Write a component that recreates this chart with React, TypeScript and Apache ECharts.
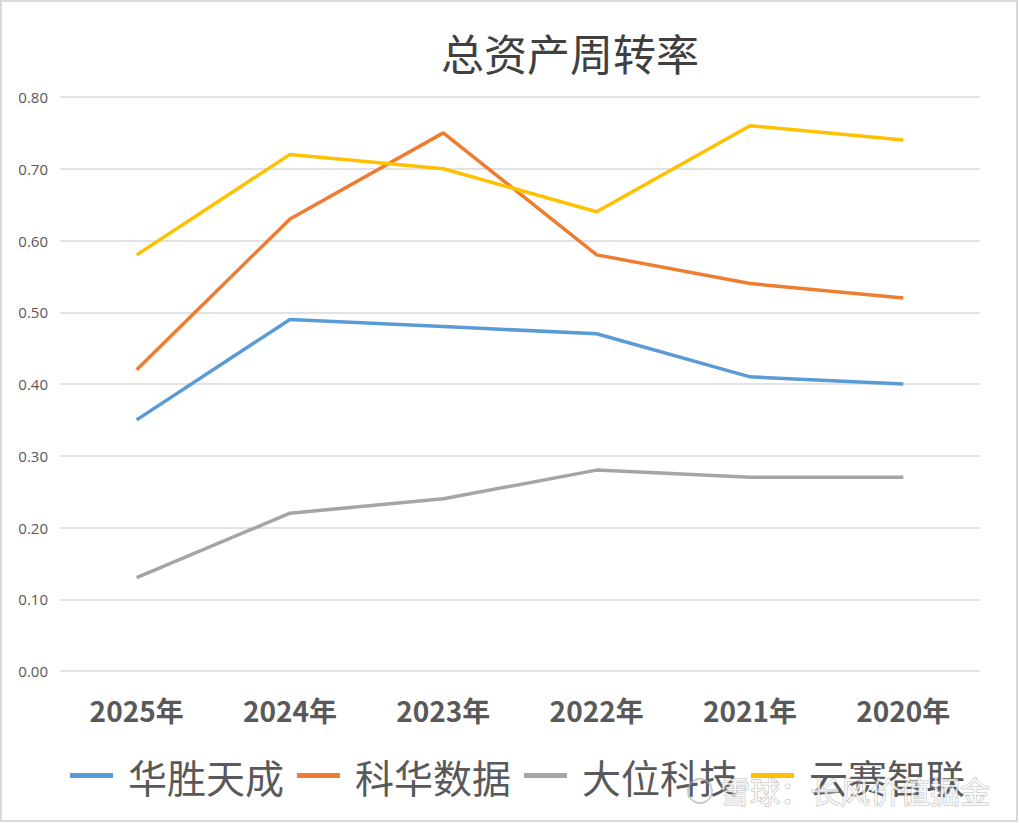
import React, { useEffect, useRef } from "react";
import * as echarts from "echarts";

const categories = ["2025年", "2024年", "2023年", "2022年", "2021年", "2020年"];
const seriesNames = ["华胜天成", "科华数据", "大位科技", "云赛智联"];
const huasheng = [0.35, 0.49, 0.48, 0.47, 0.41, 0.40];
const kehua = [0.42, 0.63, 0.75, 0.58, 0.54, 0.52];
const dawei = [0.13, 0.22, 0.24, 0.28, 0.27, 0.27];
const yunsai = [0.58, 0.72, 0.70, 0.64, 0.76, 0.74];
const colors = ["#5B9BD5", "#ED7D31", "#A5A5A5", "#FFC000"];

export default function App() {
  const ref = useRef<HTMLDivElement>(null);
  useEffect(() => {
    document.body.style.margin = "0";
    const chart = echarts.init(ref.current!, null, { renderer: "svg" });
    const values = [huasheng, kehua, dawei, yunsai];
    const font = "'Noto Sans CJK SC', 'Noto Sans', sans-serif";
    chart.setOption({
      animation: false,
      backgroundColor: "#FFFFFF",
      color: colors,
      title: {
        text: "总资产周转率",
        left: 565,
        textAlign: "center",
        top: 25,
        textStyle: { fontFamily: font, fontSize: 43, fontWeight: "normal", color: "#404040" },
      },
      grid: { left: 60, right: 39, top: 97, bottom: 152, containLabel: false },
      xAxis: {
        type: "category",
        data: categories,
        boundaryGap: true,
        axisLine: { show: false },
        axisTick: { show: false },
        axisLabel: {
          margin: 25,
          fontFamily: font,
          fontSize: 28,
          fontWeight: "bold",
          color: "#595959",
        },
      },
      yAxis: {
        type: "value",
        min: 0,
        max: 0.8,
        interval: 0.1,
        axisLabel: {
          formatter: (v: number) => v.toFixed(2),
          fontFamily: "'Open Sans', sans-serif",
          fontSize: 15,
          color: "#595959",
          margin: 12,
        },
        splitLine: { lineStyle: { color: "#D9D9D9", width: 1.5 } },
        axisLine: { show: false },
        axisTick: { show: false },
      },
      legend: {
        left: 65,
        top: 751,
        icon: "rect",
        itemWidth: 43,
        itemHeight: 5,
        itemGap: 13,
        data: seriesNames,
        textStyle: { fontFamily: font, fontSize: 39, color: "#595959", padding: [0, 0, 0, 10] },
      },
      series: seriesNames.map((name, i) => ({
        name,
        type: "line",
        data: values[i],
        showSymbol: false,
        symbol: "none",
        lineStyle: { width: 3.5, color: colors[i] },
        itemStyle: { color: colors[i] },
      })),
      graphic: [
        {
          type: "rect",
          shape: { x: 1, y: 1, width: 1016, height: 820 },
          style: { fill: "none", stroke: "#D9D9D9", lineWidth: 2 },
          silent: true,
        },
        {
          type: "circle",
          shape: { cx: 700, cy: 791, r: 12 },
          style: { fill: "none", stroke: "rgba(170,170,170,0.6)", lineWidth: 2 },
          silent: true,
          z: 100,
        },
        {
          type: "text",
          x: 720,
          y: 775,
          style: {
            text: "雪球：长风价值掘金",
            fontFamily: font,
            fontSize: 30,
            fill: "rgba(255,255,255,0.75)",
            stroke: "rgba(140,140,140,0.6)",
            lineWidth: 1,
          },
          silent: true,
          z: 100,
        },
      ],
    });
    return () => chart.dispose();
  }, []);
  return (
    <div
      ref={ref}
      style={{ position: "absolute", left: 0, top: 0, width: 1019, height: 823 }}
    />
  );
}
